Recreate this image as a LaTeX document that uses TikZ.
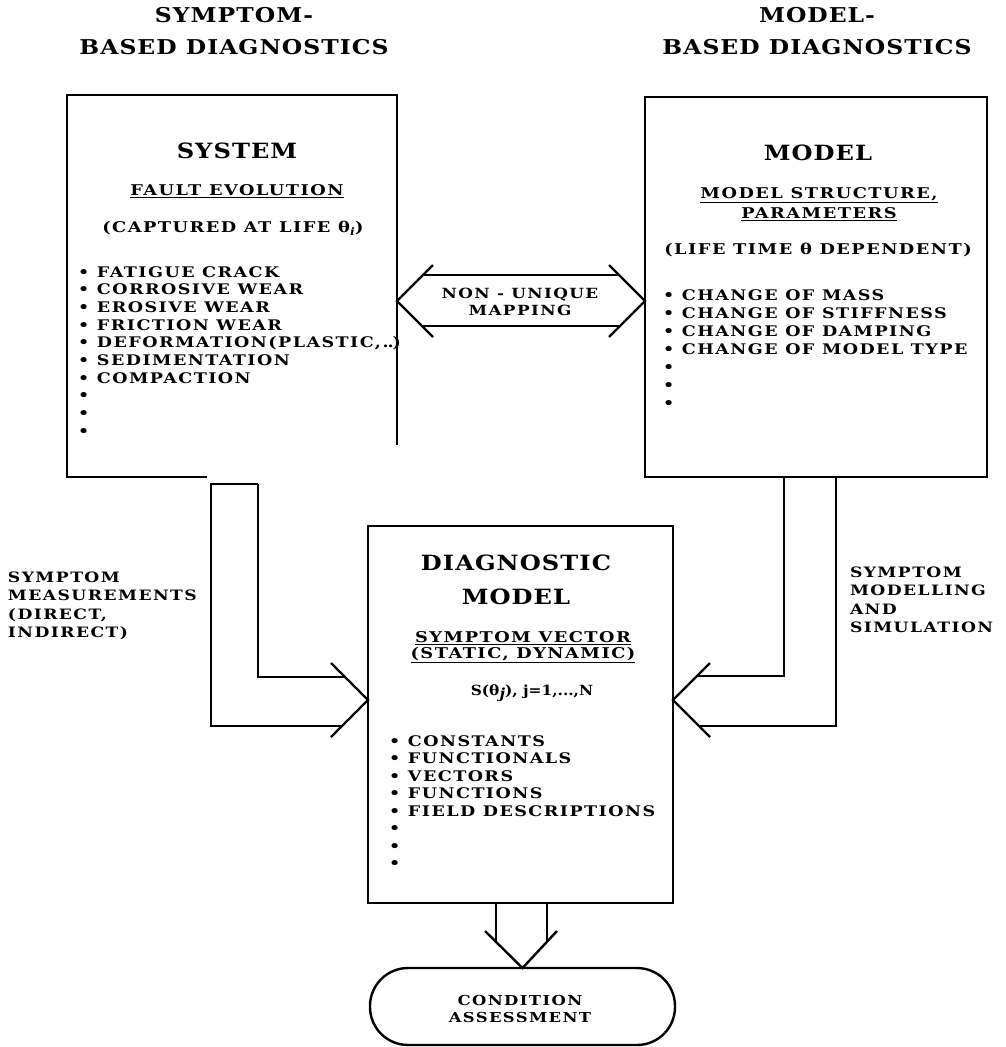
\documentclass[tikz,border=0pt]{standalone}
\usepackage{fontspec}
\newfontfamily\bd{DejaVu Serif}[FakeStretch=1.2,LetterSpace=10]
\newfontfamily\bdh{DejaVu Serif}[FakeStretch=1.15,LetterSpace=5]
\newfontfamily\bdn{DejaVu Serif}[FakeStretch=1.1]
\usetikzlibrary{calc}
\begin{document}
\begin{tikzpicture}[x=1pt,y=-1pt,line width=2.4pt,line join=miter]
\tikzset{
 every node/.style={inner sep=0pt, outer sep=0pt},
 hd/.style={font=\bdh\bfseries\fontsize{20.4}{32}\selectfont, align=center},
 ttl/.style={font=\bdh\bfseries\fontsize{21}{34}\selectfont, align=center},
 sub/.style={font=\bd\bfseries\fontsize{14.8}{19}\selectfont, align=center},
 lst/.style={font=\bd\bfseries\fontsize{14.6}{17.7}\selectfont, anchor=base west},
 lbl/.style={font=\bd\bfseries\fontsize{14.3}{18.3}\selectfont, align=left, anchor=north west},
 sml/.style={font=\bd\bfseries\fontsize{14}{17.5}\selectfont, align=center},
 frame/.style={draw, inner sep=0pt},
}
\useasboundingbox (0,0) rectangle (1005,1047);

% boxes
\node[inner sep=0pt, minimum width=330pt, minimum height=382pt] (sys) at (232,286) {};
\draw ($(sys.south west)+(140,0)$) -- (sys.south west) -- (sys.north west) -- (sys.north east) -- ($(sys.north east)+(0,350)$);
\node[frame, minimum width=342pt, minimum height=380pt] (mod) at (816,287) {};
\node[frame, minimum width=305pt, minimum height=377pt] (diag) at (520.5,714.5) {};
\node[frame, minimum width=305pt, minimum height=77pt, rounded corners=38pt] (cond) at (522.5,1006.5) {};

% headings
\node[hd] (h1) at (234,31) {SYMPTOM-\\BASED DIAGNOSTICS};
\node[hd] (h2) at (817,31) {MODEL-\\BASED DIAGNOSTICS};

% system box text
\node[ttl] (t1) at (237,151) {SYSTEM};
\node[sub] (f1) at (237,191) {\underline{FAULT EVOLUTION}};
\node[sub] (f2) at (233,228) {(CAPTURED AT LIFE θ\textsubscript{\itshape i})};
\foreach \t [count=\i from 0] in {FATIGUE CRACK, CORROSIVE WEAR, EROSIVE WEAR, FRICTION WEAR, {DEFORMATION(PLASTIC,.\kern-1pt.\kern-1pt)}, SEDIMENTATION, COMPACTION, {}, {}, {}}
  \node[lst] (sl\i) at (78,{277+17.7*\i}) {\makebox[19pt][l]{•}\t};

% model box text
\node[ttl] (t2) at (818,153) {MODEL};
\node[sub] (m1) at (819,195) {\underline{MODEL STRUCTURE,}};
\node[sub] (m2) at (819,214) {\underline{PARAMETERS}};
\node[sub] (m3) at (818,250) {(LIFE TIME θ DEPENDENT)};
\foreach \t [count=\i from 0] in {CHANGE OF MASS, CHANGE OF STIFFNESS, CHANGE OF DAMPING, CHANGE OF MODEL TYPE, {}, {}, {}}
  \node[lst] (ml\i) at (663,{300+18*\i}) {\makebox[19pt][l]{•}\t};

% diagnostic model text
\node[ttl] (t3) at (516,580) {DIAGNOSTIC\\MODEL};
\node[sub] (d1) at (523,638) {\underline{SYMPTOM VECTOR}};
\node[sub] (d2) at (523,655) {\underline{(STATIC, DYNAMIC)}};
\node[sub, font=\bdn\bfseries\fontsize{14}{17}\selectfont] (d3) at (532,693) {S(θ\raisebox{-3pt}{\itshape j}), j=1,...,N};
\foreach \t [count=\i from 0] in {CONSTANTS, FUNCTIONALS, VECTORS, FUNCTIONS, FIELD DESCRIPTIONS, {}, {}, {}}
  \node[lst] (dl\i) at (389,{746+17.5*\i}) {\makebox[19pt][l]{•}\t};

% side labels
\node[lbl] (lab1) at (8,572) {SYMPTOM\\MEASUREMENTS\\(DIRECT,\\INDIRECT)};
\node[lbl] (lab2) at (850,567) {SYMPTOM\\MODELLING\\AND\\SIMULATION};

% non-unique mapping double arrow
\coordinate (mL) at (397,301);
\coordinate (mR) at (645,301);
\draw (433,265) -- (mL) -- (433,337);
\draw (609,265) -- (mR) -- (609,337);
\draw (423,275) -- (619,275);
\draw (422,326) -- (620,326);
\node[sml] (map) at (520,302) {NON - UNIQUE\\MAPPING};

% left block arrow (system -> diagnostic model)
\coordinate (lTip) at (368,700);
\draw (258,484) -- (211,484) -- (211,726) -- (342,726);
\draw (258,484) -- (258,677) -- (345,677);
\draw (331,663) -- (lTip) -- (331,737);

% right block arrow (model -> diagnostic model)
\coordinate (rTip) at (673,700);
\draw ($(mod.south west)+(139,0)$) -- (784,676) -- (697,676);
\draw ($(mod.south west)+(191,0)$) -- (836,726) -- (699,726);
\draw (710,663) -- (rTip) -- (710,737);

% bottom block arrow (diagnostic model -> condition assessment)
\draw (496,903) -- (496,942);
\draw (547,903) -- (547,941);
\draw (485,931) -- (cond.north) -- (557,931);
\node[sml, font=\bd\bfseries\fontsize{13.7}{17}\selectfont] (ca) at (520,1009) {CONDITION\\ASSESSMENT};
\end{tikzpicture}
\end{document}
